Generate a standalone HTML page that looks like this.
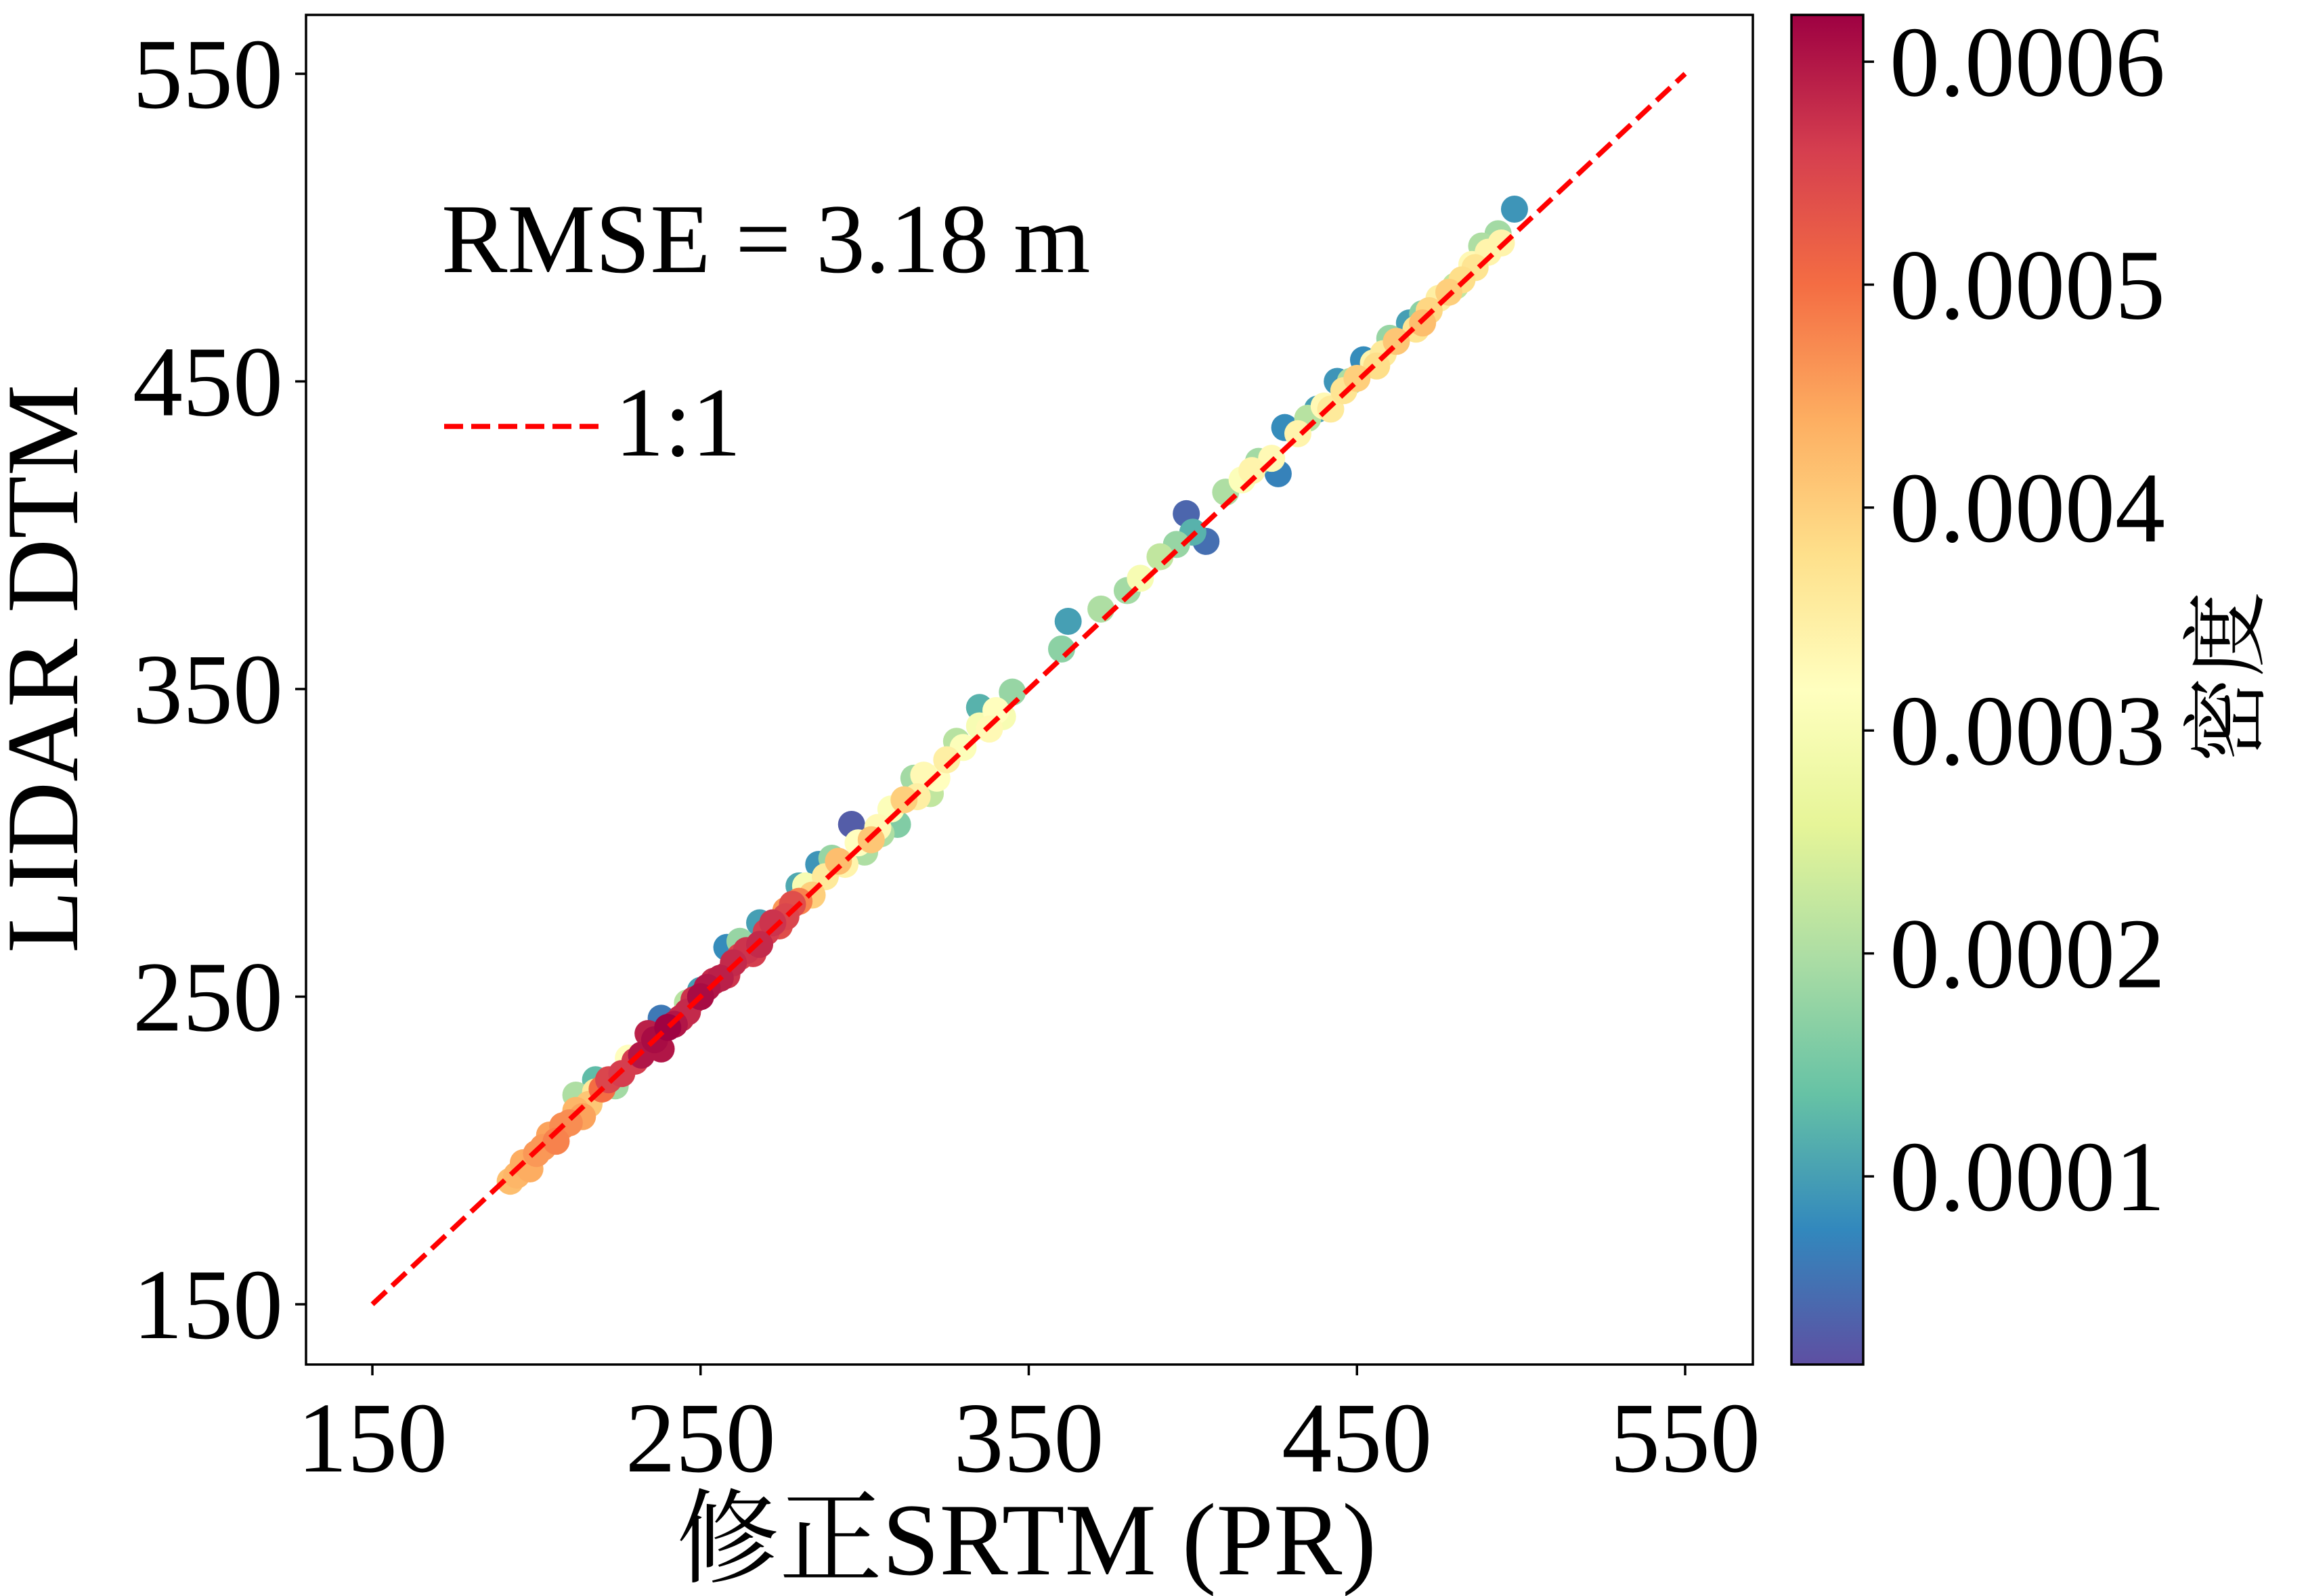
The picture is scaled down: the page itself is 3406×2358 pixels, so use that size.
<!DOCTYPE html>
<html><head><meta charset="utf-8">
<style>
html,body{margin:0;padding:0;background:#fff;}
svg{display:block;}
text{font-family:"Liberation Serif","Noto Serif CJK SC",serif;fill:#000;}
</style></head>
<body>
<svg id="chart" width="3406" height="2358" viewBox="0 0 3406 2358" xmlns="http://www.w3.org/2000/svg">
<defs>
<linearGradient id="cmap" x1="0" y1="1" x2="0" y2="0">
<stop offset="0" stop-color="#5e4fa2"/><stop offset="0.1" stop-color="#3288bd"/>
<stop offset="0.2" stop-color="#66c2a5"/><stop offset="0.3" stop-color="#abdda4"/>
<stop offset="0.4" stop-color="#e6f598"/><stop offset="0.5" stop-color="#ffffbf"/>
<stop offset="0.6" stop-color="#fee08b"/><stop offset="0.7" stop-color="#fdae61"/>
<stop offset="0.8" stop-color="#f46d43"/><stop offset="0.9" stop-color="#d53e4f"/>
<stop offset="1" stop-color="#9e0142"/>
</linearGradient>
<clipPath id="plotclip"><rect x="452" y="22" width="2137" height="1994"/></clipPath>
</defs>
<g id="points" clip-path="url(#plotclip)"></g>
<g id="ref"></g>
<rect x="452" y="22" width="2137" height="1994" fill="none" stroke="#000" stroke-width="3.5"/>
<g id="axes"></g>
<text x="652" y="402" font-size="146">RMSE = 3.18 m</text>
<line x1="656" y1="630" x2="886" y2="630" stroke="#ff0000" stroke-width="7.5" stroke-dasharray="28,12"/>
<text x="908" y="673" font-size="146">1:1</text>
<text x="1516" y="2326" font-size="152" text-anchor="middle">修正SRTM (PR)</text>
<text transform="translate(114,988) rotate(-90)" font-size="152" text-anchor="middle">LIDAR DTM</text>
<rect x="2646" y="22" width="106" height="1994" fill="url(#cmap)" stroke="#000" stroke-width="3.5"/>
<text transform="translate(3332,1000) rotate(-90)" font-size="126" text-anchor="middle">密度</text>
</svg>
<script>
const xTicks=[150,250,350,450,550];
const yTicks=[150,250,350,450,550];
const cbTicks=[0.0001,0.0002,0.0003,0.0004,0.0005,0.0006];
const cbLabels=["0.0001","0.0002","0.0003","0.0004","0.0005","0.0006"];
const xs=[296,238,258,268,286,398,404,426,428,438,444,452,466,498,400,250,280,335,362,218,
290,300,310,315,328,345,360,372,380,390,395,410,420,435,448,460,470,480,488,493,224,246,262,212,305,320,
282,298,308,318,325,335,340,384,415,440,455,475,485,490,228,218,
192,196,200,204,208,212,216,198,206,284,292,450,462,478,470,302,312,276,
222,226,232,236,240,234,238,244,250,252,256,260,264,268,270,272,276,278,246,
194,202,210,214,220,230,242,248,254,258,262,266,274,280,288,294,304,316,322,330,338,342,
418,424,432,442,446,456,458,468,472,482,486,494];
const ys=[306,243,266,274,293,407,398,420,435,441,450,457,469,506,401,252,286,344,372,223,
295,297,306,321,333,349,363,376,382,393,397,414,424,438,450,464,472,481,494,498,221,248,268,218,303,316,
286,300,311,322,327,338,343,386,418,442,456,477,488,492,230,219,
190,196,199,205,208,213,215,194,203,283,294,451,463,479,469,301,314,278,
223,225,231,236,240,238,233,243,250,253,256,261,265,267,271,274,276,280,245,
192,201,209,211,220,229,241,249,255,257,263,264,273,281,289,293,305,315,321,331,337,341,
421,425,433,441,447,455,459,467,473,483,487,495];
const dens=[0.00003,0.00006,0.00008,0.0001,0.00009,0.00004,0.00005,0.00007,0.00008,0.0001,0.00009,0.00008,0.0001,0.00009,0.00012,0.0001,0.00011,0.00012,0.0001,0.00013,
0.00018,0.0002,0.00016,0.00019,0.00021,0.00018,0.00017,0.0002,0.00019,0.00022,0.00018,0.0002,0.00019,0.00021,0.0002,0.00018,0.00017,0.00022,0.0002,0.00019,0.00019,0.00021,0.00018,0.0002,0.0002,0.00022,
0.0003,0.00032,0.00031,0.00033,0.00035,0.0003,0.00032,0.0003,0.00031,0.00033,0.00034,0.00035,0.00033,0.00034,0.00032,0.00036,
0.00042,0.00044,0.00046,0.00045,0.00047,0.00043,0.00041,0.00044,0.00048,0.0004,0.00042,0.0004,0.00041,0.0004,0.00042,0.00041,0.0004,0.00046,
0.00055,0.00056,0.0006,0.00061,0.00062,0.00059,0.0006,0.00058,0.00061,0.0006,0.00059,0.00058,0.00057,0.00058,0.00056,0.00057,0.00055,0.00054,0.00058,
0.00043,0.00046,0.00047,0.00045,0.0005,0.00056,0.0006,0.00057,0.00058,0.00057,0.00055,0.00056,0.00054,0.00048,0.00036,0.00034,0.00033,0.00035,0.00032,0.00031,0.00033,0.0003,
0.00034,0.00033,0.00034,0.00036,0.00037,0.00038,0.00036,0.00037,0.00039,0.00038,0.00037,0.00034];
const NS="http://www.w3.org/2000/svg";
const X=v=>550+(v-150)*(2489-550)/400;
const Y=v=>1927-(v-150)*(1927-109)/400;
const vmin=0.0000156,vmax=0.000621;
const CB=v=>2016-(v-vmin)/(vmax-vmin)*1994;
const stops=["#5e4fa2","#3288bd","#66c2a5","#abdda4","#e6f598","#ffffbf","#fee08b","#fdae61","#f46d43","#d53e4f","#9e0142"];
function hex(h){return [1,3,5].map(i=>parseInt(h.substr(i,2),16));}
function cmap(v){let t=Math.max(0,Math.min(1,(v-vmin)/(vmax-vmin)))*10;let i=Math.min(9,Math.floor(t)),f=t-i;
const a=hex(stops[i]),b=hex(stops[i+1]);return "rgb("+a.map((c,k)=>Math.round(c+(b[k]-c)*f)).join(",")+")";}
function mk(tag,attrs,parent){const e=document.createElementNS(NS,tag);for(const k in attrs)e.setAttribute(k,attrs[k]);parent.appendChild(e);return e;}
const pg=document.getElementById('points');
const idx=dens.map((d,i)=>i).sort((a,b)=>dens[a]-dens[b]);
idx.forEach(i=>{const c=mk('circle',{cx:X(xs[i]),cy:Y(ys[i]),r:20,fill:cmap(dens[i])},pg);

});
const rg=document.getElementById('ref');
const l=mk('line',{x1:X(150),y1:Y(150),x2:X(550),y2:Y(550),stroke:'#ff0000','stroke-width':7.5,'stroke-dasharray':'28,12'},rg);


const ax=document.getElementById('axes');
xTicks.forEach(v=>{const t=mk('line',{x1:X(v),x2:X(v),y1:2016,y2:2032,stroke:'#000','stroke-width':3.5},ax);


const s=mk('text',{x:X(v),y:2174,'font-size':148,'text-anchor':'middle'},ax);s.textContent=v;

});
yTicks.forEach(v=>{const t=mk('line',{x1:436,x2:452,y1:Y(v),y2:Y(v),stroke:'#000','stroke-width':3.5},ax);


const s=mk('text',{x:418,y:Y(v)+50,'font-size':148,'text-anchor':'end'},ax);s.textContent=v;

});
cbTicks.forEach((v,i)=>{const t=mk('line',{x1:2752,x2:2768,y1:CB(v),y2:CB(v),stroke:'#000','stroke-width':3.5},ax);


const s=mk('text',{x:2791,y:CB(v)+50,'font-size':148},ax);s.textContent=cbLabels[i];

});
</script>
</body></html>
